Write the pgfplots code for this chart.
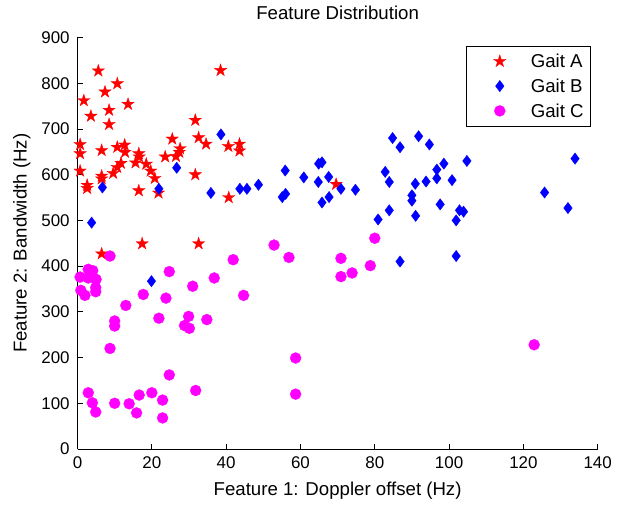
\documentclass[border=0pt]{standalone}
\usepackage{fontspec}
\setmainfont{Liberation Sans}
\usepackage{pgfplots}
\pgfplotsset{compat=1.18}
\pgfdeclareplotmark{pentagram}{%
  \pgfpathmoveto{\pgfpointpolar{90}{\pgfplotmarksize}}%
  \pgfpathlineto{\pgfpointpolar{126}{0.382\pgfplotmarksize}}%
  \pgfpathlineto{\pgfpointpolar{162}{\pgfplotmarksize}}%
  \pgfpathlineto{\pgfpointpolar{198}{0.382\pgfplotmarksize}}%
  \pgfpathlineto{\pgfpointpolar{234}{\pgfplotmarksize}}%
  \pgfpathlineto{\pgfpointpolar{270}{0.382\pgfplotmarksize}}%
  \pgfpathlineto{\pgfpointpolar{306}{\pgfplotmarksize}}%
  \pgfpathlineto{\pgfpointpolar{342}{0.382\pgfplotmarksize}}%
  \pgfpathlineto{\pgfpointpolar{18}{\pgfplotmarksize}}%
  \pgfpathlineto{\pgfpointpolar{54}{0.382\pgfplotmarksize}}%
  \pgfpathclose
  \pgfusepathqfillstroke
}
\definecolor{mred}{RGB}{255,0,0}
\definecolor{mblue}{RGB}{0,0,255}
\definecolor{mmag}{RGB}{255,0,255}
\pgfplotsset{myleg/.style={legend image code/.code={\path[draw=none,fill=none] (-33bp,-6.7bp) rectangle (31bp,6.7bp); \draw[##1] plot coordinates {(0bp,0bp)};}}}
\newcommand{\tfont}{\fontsize{17}{20}\selectfont}
\newcommand{\lfont}{\fontsize{18.7}{22}\selectfont}
\begin{document}
\tfont
\begin{tikzpicture}
\begin{axis}[
  scale only axis, width=520bp, height=411.4bp,
  xmin=0, xmax=140, ymin=0, ymax=900,
  xtick={0,20,...,140}, ytick={0,100,...,900},
  axis x line*=bottom, axis y line*=left,
  tick align=inside, major tick length=5bp,
  axis line style={line width=0.8bp},
  every tick/.style={black, line width=0.8bp},
  /pgf/number format/assume math mode=true,
  tick label style={font=\tfont},
  xticklabel style={yshift=-2bp},
  yticklabel style={xshift=-2bp},
  title={Feature Distribution},
  title style={at={(axis description cs:0.5,1.030)}, anchor=base, font=\lfont},
  xlabel={Feature 1: Doppler offset (Hz)},
  xlabel style={at={(axis description cs:0.5,-0.1138)}, anchor=base, font=\lfont},
  ylabel={Feature 2: Bandwidth (Hz)},
  ylabel style={at={(axis description cs:-0.0977,0.5)}, anchor=base, font=\lfont},
  clip=false,
  legend style={at={(1,1)}, anchor=north east, xshift=-6.7bp, yshift=-8.4bp,
    draw=black, line width=0.8bp, inner xsep=0pt, inner ysep=8.3bp,
    row sep=11.4bp, column sep=0pt,
    nodes={inner sep=0pt, text height=13.4bp, text depth=0bp, font=\lfont}},
  legend cell align=left,
]
\addplot[only marks, mark=pentagram, mark size=6.5bp, mark options={fill=mred, draw=mred, line width=0.3bp}, myleg] coordinates {
(5.6,827)(38.5,828)(10.7,799)(7.4,781)(1.7,762)(13.6,754)(3.6,728)(8.5,741)(8.5,710)(31.7,719)
(0.7,666)(0.7,646)(6.5,653)(10.7,660)(12.7,665)(12.8,649)(16.5,646)(16.6,639)(25.5,678)(23.6,639)
(26.5,640)(27.6,657)(27.4,649)(32.6,681)(34.6,667)(40.6,662)(43.6,667)(43.6,652)(0.7,608)(11.7,625)
(10.7,616)(9.6,603)(15.6,626)(18.5,623)(19.7,608)(20.8,592)(6.5,597)(6.5,591)(2.6,577)(2.6,570)
(16.5,565)(21.8,560)(31.7,600)(40.7,550)(69.6,579)(6.5,427)(17.4,449)(32.6,449)
};
\addlegendentry{Gait A\hspace*{8bp}}
\addplot[only marks, mark=diamond*, mark size=5.7bp, mark options={fill=mblue, draw=mblue, line width=0.3bp}, myleg] coordinates {
(6.7,572)(21.9,569)(26.7,615)(35.9,560)(38.6,688)(43.7,569)(45.6,569)(48.7,578)(55.9,609)(55.1,551)
(56,558)(60.9,594)(64.9,624)(65.8,627)(64.8,584)(67.6,595)(67.7,551)(65.8,539)(70.9,569)(74.8,567)
(84.8,680)(86.8,660)(91.8,684)(82.8,606)(83.9,584)(90.9,580)(90,555)(90,543)(83.9,522)(94.7,666)
(98.6,624)(96.7,611)(96.7,592)(104.8,630)(133.9,635)(93.8,585)(100.8,588)(97.6,535)(125.7,561)
(132,527)(80.9,502)(91,510)(101.9,500)(102.8,522)(103.9,519)(86.8,410)(101.9,422)(3.8,495)(19.9,367)
};
\addlegendentry{Gait B}
\addplot[only marks, mark=*, mark size=5.5bp, mark options={fill=mmag, draw=mmag, line width=0.3bp}, myleg] coordinates {
(8.75,422)(2.9,393)(4.1,390)(0.7,376)(2.9,374)(5,371)(4.9,353)(4.9,344)(0.9,347)(2,336)
(24.7,388)(17.7,338)(13,314)(23.8,330)(31,356)(36.8,374)(41.9,414)(44.7,336)(10,280)(10,269)
(21.9,286)(29.9,290)(28.8,270)(30.1,264)(34.8,283)(8.75,220)(24.7,162)(2.9,123)(4,101)(4.9,81)
(10,100)(13.9,99)(15.9,79)(16.6,118)(20,123)(22.9,107)(22.9,68)(31.8,128)(52.9,446)(56.9,419)
(70.9,417)(70.9,377)(73.9,385)(78.8,401)(80,461)(58.7,199)(58.7,120)(122.9,228)
};
\addlegendentry{Gait C}
\path (axis description cs:-0.149,-0.1223) rectangle (axis description cs:1.0621,1.0907);
\end{axis}
\end{tikzpicture}
\end{document}
